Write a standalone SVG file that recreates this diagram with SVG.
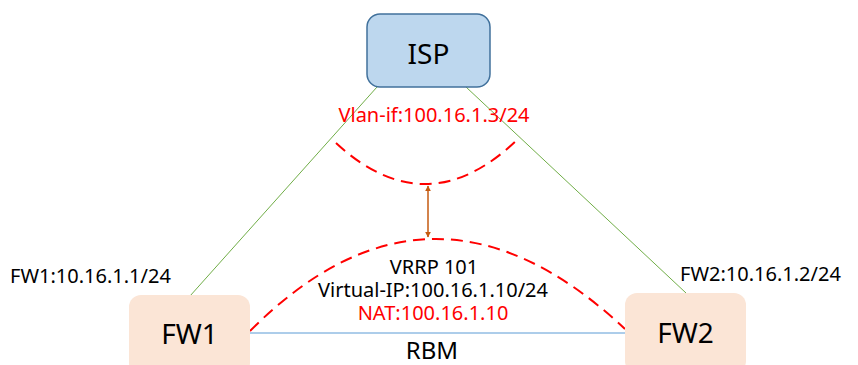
<svg xmlns="http://www.w3.org/2000/svg" width="858" height="365" viewBox="0 0 858 365">
<defs>
<style>
text{font-family:"Noto Sans","Open Sans","Liberation Sans",sans-serif;text-anchor:middle}
.lbl{font-size:20px;fill:#000}
.red{fill:#FF0000}
.node{font-size:28px;fill:#000}
.link{stroke:#70AD47;stroke-width:1;fill:none}
.dash{stroke:#FF0000;stroke-width:2;fill:none;stroke-dasharray:12 7}
</style>
<marker id="ah" viewBox="0 0 10 10" refX="9" refY="5" markerWidth="4" markerHeight="4" orient="auto-start-reverse">
<path d="M0,0 L10,5 L0,10 z" fill="#C55A11"/>
</marker>
</defs>
<rect width="858" height="365" fill="#fff"/>
<g id="connectors">
<line class="link" x1="377" y1="87" x2="190" y2="296"/>
<line class="link" x1="466" y1="87" x2="686" y2="293"/>
<line x1="250" y1="333" x2="625" y2="333" stroke="#5B9BD5" stroke-width="1"/>
<path class="dash" d="M336,143 Q428,228 520,137"/>
<path class="dash" d="M250,331 Q432,148 625,329"/>
<line x1="428" y1="186" x2="428" y2="237" stroke="#C55A11" stroke-width="1.5" marker-start="url(#ah)" marker-end="url(#ah)"/>
</g>
<g id="isp">
<rect x="367" y="14" width="123" height="73" rx="13" fill="#BDD7EE" stroke="#41719C" stroke-width="1.5"/>
<text class="node" x="428.5" y="64">ISP</text>
</g>
<g id="fw1">
<rect x="129" y="295" width="121" height="80" rx="12" fill="#FBE5D6"/>
<text class="node" x="189.5" y="344">FW1</text>
</g>
<g id="fw2">
<rect x="625" y="293" width="121" height="80" rx="12" fill="#FBE5D6"/>
<text class="node" x="685.5" y="343">FW2</text>
</g>
<g id="labels">
<text class="lbl red" x="434" y="122">Vlan-if:100.16.1.3/24</text>
<text class="lbl" x="434" y="274">VRRP 101</text>
<text class="lbl" x="433" y="297">Virtual-IP:100.16.1.10/24</text>
<text class="lbl red" x="433" y="320">NAT:100.16.1.10</text>
<text class="node" x="432" y="359" style="font-size:24px">RBM</text>
<text class="lbl" x="10" y="283" style="text-anchor:start">FW1:10.16.1.1/24</text>
<text class="lbl" x="680" y="281" style="text-anchor:start">FW2:10.16.1.2/24</text>
</g>
</svg>
